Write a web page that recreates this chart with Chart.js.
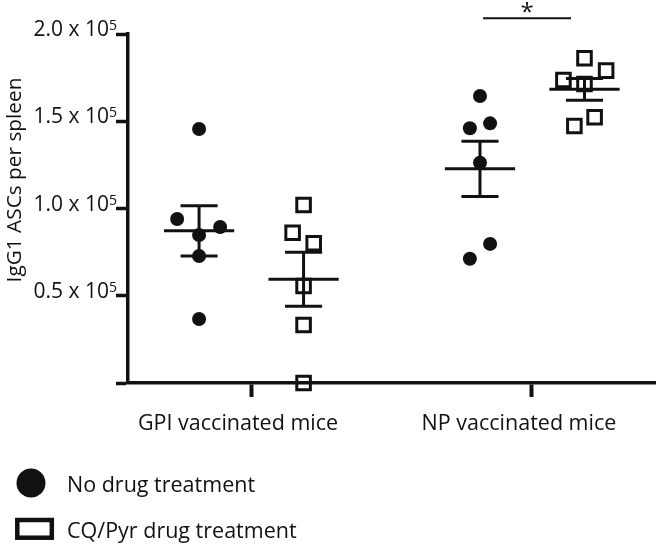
<!DOCTYPE html>
<html>
<head>
<meta charset="utf-8">
<script src="https://cdn.jsdelivr.net/npm/chart.js@4"></script>
<style>
  html, body { margin: 0; background: #fff; }
</style>
</head>
<body>
<canvas id="c" width="657" height="547"></canvas>
<script>
  // --- data (cells per spleen) ---------------------------------------------
  const groups = ['GPI vaccinated mice', 'NP vaccinated mice'];
  const seriesNames = ['No drug treatment', 'CQ/Pyr drug treatment'];

  const gpiNoDrug = [145600, 94000, 89400, 84800, 72800, 36700];
  const gpiCqPyr  = [102000, 86100, 80100, 55600, 33200, 0];
  const npNoDrug  = [164500, 146000, 148800, 126200, 79700, 71200];
  const npCqPyr   = [186100, 179000, 173600, 171300, 152300, 147300];

  // horizontal scatter of the dots inside a column, in category units
  const gpiNoDrugSpread = [0, -0.078, 0.075, 0, 0, 0];
  const gpiCqPyrSpread  = [0, -0.039, 0.036, 0, 0, 0];
  const npNoDrugSpread  = [0, -0.036, 0.036, 0, 0.036, -0.036];
  const npCqPyrSpread   = [0, 0.077, -0.075, 0, 0.036, -0.036];

  const groupTicks = [1, 2];
  const yTickValues = [50000, 100000, 150000, 200000];
  const yTickExponent = '5';

  const sigSpan = [1.826, 2.139];   // NP no drug vs NP CQ/Pyr
  const sigHeight = 209000;
  const sigLabel = '*';

  // --- styling ---------------------------------------------------------------
  const INK = '#111';
  const FONT = '"Open Sans", "Noto Sans", sans-serif';
  const COL_OFFSET = [-0.185, 0.187];
  const MEAN_HALF = 0.125, CAP_HALF = 0.066;

  const columns = [
    { group: 0, kind: 0, values: gpiNoDrug, spread: gpiNoDrugSpread },
    { group: 0, kind: 1, values: gpiCqPyr,  spread: gpiCqPyrSpread },
    { group: 1, kind: 0, values: npNoDrug,  spread: npNoDrugSpread },
    { group: 1, kind: 1, values: npCqPyr,   spread: npCqPyrSpread },
  ];

  function mean(a) { return a.reduce((s, v) => s + v, 0) / a.length; }
  function sem(a) {
    const m = mean(a);
    const sd = Math.sqrt(a.reduce((s, v) => s + (v - m) * (v - m), 0) / (a.length - 1));
    return sd / Math.sqrt(a.length);
  }

  function segment(x1, y1, x2, y2, width) {
    return {
      data: [{ x: x1, y: y1 }, { x: x2, y: y2 }],
      showLine: true, pointRadius: 0, borderColor: INK, borderWidth: width || 3,
      borderCapStyle: 'butt', clip: false, order: 0,
    };
  }

  const datasets = [];
  columns.forEach((c) => {
    const cx = groupTicks[c.group] + COL_OFFSET[c.kind];
    const m = mean(c.values), e = sem(c.values);
    datasets.push(segment(cx - MEAN_HALF, m, cx + MEAN_HALF, m));
    datasets.push(segment(cx - CAP_HALF, m + e, cx + CAP_HALF, m + e));
    datasets.push(segment(cx - CAP_HALF, m - e, cx + CAP_HALF, m - e));
    datasets.push(segment(cx, m - e, cx, m + e));
    const filled = c.kind === 0;
    datasets.push({
      label: seriesNames[c.kind],
      data: c.values.map((v, i) => ({ x: cx + c.spread[i], y: v })),
      pointStyle: filled ? 'circle' : 'rect',
      pointRadius: filled ? 7 : 9.6,
      backgroundColor: filled ? INK : 'rgba(0,0,0,0)',
      borderColor: INK,
      borderWidth: filled ? 0 : 3,
      clip: false, order: 1,
    });
  });
  datasets.push(segment(sigSpan[0], sigHeight, sigSpan[1], sigHeight, 2));

  // axis labels, superscripts, significance star, legend
  const overlay = {
    id: 'overlay',
    afterDraw(chart) {
      const ctx = chart.ctx, ys = chart.scales.y, xs = chart.scales.x;
      const right = chart.chartArea.left - 11;
      ctx.save();
      ctx.fillStyle = INK;
      ctx.textBaseline = 'alphabetic';
      ctx.textAlign = 'right';
      yTickValues.forEach((v) => {
        const py = ys.getPixelForValue(v);
        ctx.font = '14px ' + FONT;
        ctx.fillText(yTickExponent, right, py - 4);
        const w = ctx.measureText(yTickExponent).width;
        ctx.font = '21px ' + FONT;
        ctx.fillText((v / 1e5).toFixed(1) + ' x 10', right - w, py + 2);
      });

      // category labels, sitting a little left of their ticks as in the original
      ctx.textAlign = 'center';
      ctx.font = '21.5px ' + FONT;
      groupTicks.forEach((t, i) => {
        ctx.fillText(groups[i], xs.getPixelForValue(t) - 13, chart.chartArea.bottom + 47);
      });

      // axis title
      ctx.save();
      ctx.translate(20.5, 180);
      ctx.rotate(-Math.PI / 2);
      ctx.font = '20.8px ' + FONT;
      ctx.fillText('IgG1 ASCs per spleen', 0, 0);
      ctx.restore();

      // significance star
      ctx.font = '24px ' + FONT;
      ctx.fillText(sigLabel, xs.getPixelForValue((sigSpan[0] + sigSpan[1]) / 2), ys.getPixelForValue(sigHeight) + 2);

      // legend
      ctx.textAlign = 'left';
      ctx.font = '21.5px ' + FONT;
      ctx.beginPath();
      ctx.arc(31, 483, 14.5, 0, Math.PI * 2);
      ctx.fill();
      ctx.fillText(seriesNames[0], 67, 492);
      ctx.strokeStyle = INK;
      ctx.lineWidth = 4.5;
      ctx.strokeRect(17.3, 520, 34.5, 17.7);
      ctx.fillText(seriesNames[1], 67, 538);
      ctx.restore();
    },
  };

  new Chart(document.getElementById('c').getContext('2d'), {
    type: 'scatter',
    data: { datasets },
    options: {
      responsive: false,
      animation: false,
      events: [],
      layout: { autoPadding: false, padding: { top: 34, right: 2, bottom: 0, left: 0 } },
      plugins: { legend: { display: false }, tooltip: { enabled: false } },
      scales: {
        x: {
          type: 'linear', position: 'bottom', min: 0.562, max: 2.438,
          afterFit: (s) => { s.height = 164; },
          afterBuildTicks: (s) => { s.ticks = groupTicks.map((v) => ({ value: v })); },
          grid: { drawOnChartArea: false, drawTicks: true, tickLength: 14, tickWidth: 4, tickColor: INK },
          border: { display: true, color: INK, width: 3.5 },
          ticks: { display: false },
        },
        y: {
          min: 0, max: 200000,
          afterFit: (s) => { s.width = 128; },
          ticks: { display: false, stepSize: 50000 },
          grid: { drawOnChartArea: false, drawTicks: true, tickLength: 12, tickWidth: 3.5, tickColor: INK },
          border: { display: true, color: INK, width: 3.5 },
        },
      },
    },
    plugins: [overlay],
  });
</script>
</body>
</html>
